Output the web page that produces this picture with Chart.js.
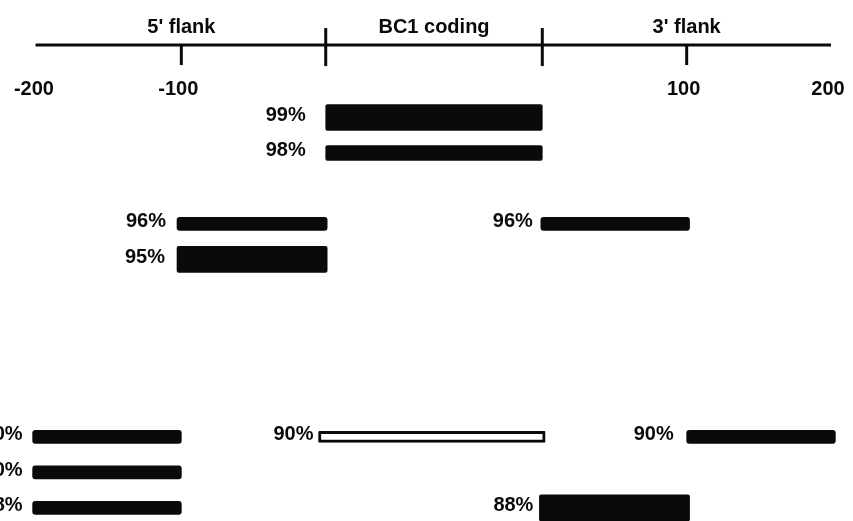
<!DOCTYPE html>
<html>
<head>
<meta charset="utf-8">
<script src="https://cdn.jsdelivr.net/npm/chart.js@4/dist/chart.umd.min.js"></script>
<style>
  body { margin: 0; background: #fff; }
  #wrap { width: 853px; height: 521px; }
</style>
</head>
<body>
<div id="wrap"><canvas id="myChart" width="853" height="521"></canvas></div>
<script>
// positions along the gene: 5' flank -200..0, BC1 coding 0..150, 3' flank 150..350
const regionNames = ["5' flank", 'BC1 coding', "3' flank"]
const regionCenters = [-100, 75, 250]
const codingBounds = [0, 150]
const tickValues = [-100, 250]
const tickLabelValues = [-200, -100, 250, 350]
const tickLabels = ['-200', '-100', '100', '200']

// thick bars
const thickRows = [0, 4, 11]
const thickFrom = [0, -103, 148]
const thickTo = [150, 1, 252]
const thickPct = ['99%', '95%', '88%']

// medium bar
const mediumRows = [1]
const mediumFrom = [0]
const mediumTo = [150]
const mediumPct = ['98%']

// thin bars
const thinRows = [3, 3, 9, 9, 10, 11]
const thinFrom = [-103, 149, -203, 250, -203, -203]
const thinTo = [1, 252, -100, 353, -100, -100]
const thinPct = ['96%', '96%', '90%', '90%', '90%', '88%']

// open bar
const openRows = [9]
const openFrom = [-5]
const openTo = [152]
const openPct = ['90%']

const ink = '#0a0a0a'

function toPoints(rows, from, to) {
  return rows.map((r, i) => ({ x: [from[i], to[i]], y: r }))
}

Chart.defaults.font.family = "'Liberation Sans', Arial, sans-serif"
Chart.defaults.font.weight = 'bold'
Chart.defaults.color = ink

const labelsPlugin = {
  id: 'geneAxis',
  afterDatasetsDraw(chart) {
    const { ctx, scales } = chart
    const xs = scales.x
    const axisY = scales.y.getPixelForValue(-2.04)
    ctx.save()
    ctx.strokeStyle = ink
    ctx.lineCap = 'butt'

    // main line
    ctx.lineWidth = 3
    ctx.beginPath()
    ctx.moveTo(xs.getPixelForValue(-201), axisY)
    ctx.lineTo(xs.getPixelForValue(350), axisY)
    ctx.stroke()

    // boundary ticks
    codingBounds.forEach(v => {
      const px = xs.getPixelForValue(v)
      ctx.beginPath()
      ctx.moveTo(px, axisY - 17)
      ctx.lineTo(px, axisY + 21)
      ctx.stroke()
    })
    // small ticks
    tickValues.forEach(v => {
      const px = xs.getPixelForValue(v)
      ctx.beginPath()
      ctx.moveTo(px, axisY)
      ctx.lineTo(px, axisY + 20)
      ctx.stroke()
    })

    ctx.fillStyle = ink
    ctx.font = "bold 20px 'Liberation Sans', Arial, sans-serif"
    ctx.textAlign = 'center'
    ctx.textBaseline = 'alphabetic'
    regionNames.forEach((t, i) => {
      ctx.fillText(t, xs.getPixelForValue(regionCenters[i]), axisY - 12)
    })
    tickLabels.forEach((t, i) => {
      ctx.fillText(t, xs.getPixelForValue(tickLabelValues[i]) - 3, axisY + 50)
    })

    // percent labels left of every bar
    ctx.textAlign = 'right'
    ctx.textBaseline = 'middle'
    chart.data.datasets.forEach((ds, di) => {
      const meta = chart.getDatasetMeta(di)
      meta.data.forEach((el, i) => {
        const left = Math.min(el.x, el.base)
        ctx.fillText(ds.pct[i], left - ds.labelGap[i], el.y - 2)
      })
    })
    ctx.restore()
  },
}

new Chart(document.getElementById('myChart'), {
  type: 'bar',
  data: {
    datasets: [
      {
        data: toPoints(thickRows, thickFrom, thickTo),
        pct: thickPct,
        labelGap: [20, 12, 6],
        backgroundColor: ink,
        barThickness: 26,
        borderRadius: 2,
        borderSkipped: false,
      },
      {
        data: toPoints(mediumRows, mediumFrom, mediumTo),
        pct: mediumPct,
        labelGap: [20],
        backgroundColor: ink,
        barThickness: 15,
        borderRadius: 2,
        borderSkipped: false,
      },
      {
        data: toPoints(thinRows, thinFrom, thinTo),
        pct: thinPct,
        labelGap: [11, 8, 10, 13, 10, 10],
        backgroundColor: ink,
        barThickness: 13,
        borderRadius: 3,
        borderSkipped: false,
      },
      {
        data: toPoints(openRows, openFrom, openTo),
        pct: openPct,
        labelGap: [5],
        backgroundColor: '#ffffff',
        borderColor: ink,
        borderWidth: 3,
        barThickness: 11,
        borderRadius: 1,
        borderSkipped: false,
      },
    ],
  },
  options: {
    indexAxis: 'y',
    responsive: false,
    animation: false,
    devicePixelRatio: 1,
    grouped: false,
    layout: { padding: 0 },
    plugins: {
      legend: { display: false },
      tooltip: { enabled: false },
    },
    scales: {
      x: {
        type: 'linear',
        display: false,
        min: -225.6,
        max: 365.2,
        beginAtZero: false,
      },
      y: {
        type: 'linear',
        display: false,
        reverse: true,
        offset: false,
        min: -3.31,
        max: 11.37,
      },
    },
  },
  plugins: [labelsPlugin],
})
</script>
</body>
</html>
